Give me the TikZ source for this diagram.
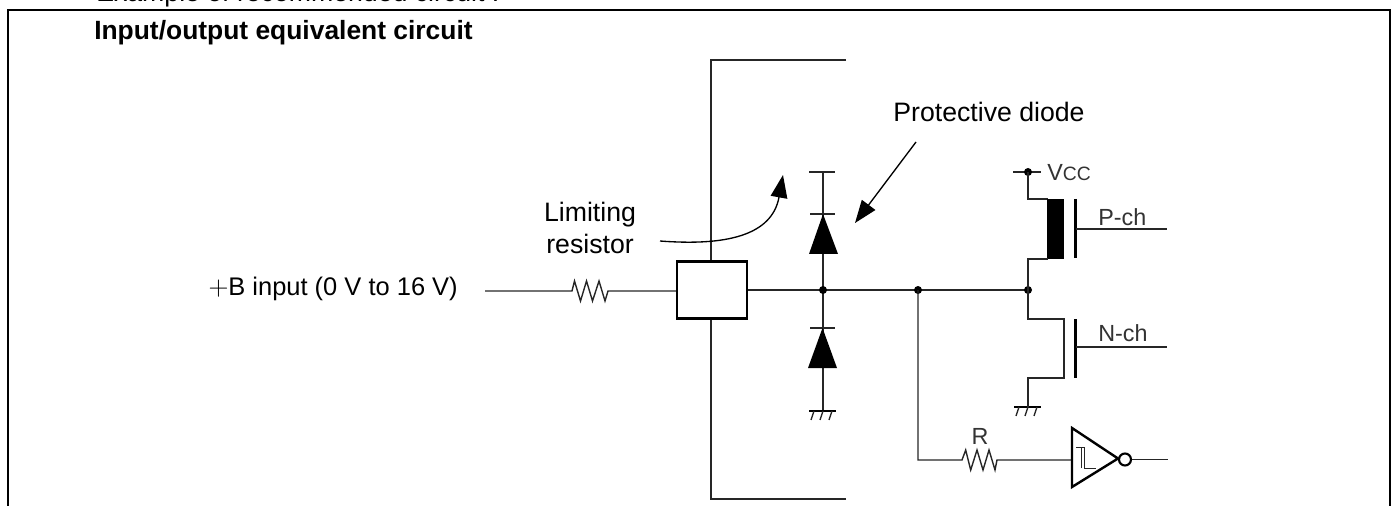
\documentclass[tikz,border=0pt]{standalone}
\usepackage{fontspec}
\setmainfont{Liberation Sans}
\usetikzlibrary{arrows.meta}
\begin{document}
\begin{tikzpicture}[x=0.75pt,y=-0.75pt,line join=miter,
  wire/.style={draw=black!85,line width=1.05pt},
  thick bar/.style={draw=black,line width=1.8pt},
  lbl/.style={inner sep=0pt,font=\fontsize{20}{24}\selectfont},
  small lbl/.style={inner sep=0pt,text=black!80,font=\fontsize{17.5}{20}\selectfont},
  dot/.style={circle,fill=black,inner sep=0pt,minimum size=8pt*0.75},
  fat/.style={-{Triangle[length=17pt,width=12.5pt]}}]
\useasboundingbox (0,0) rectangle (1400,506);
\begin{scope}
\clip (0,0) rectangle (1400,506);
\node[lbl,anchor=base west] (cap) at (96,1.5) {Example of recommended circuit :};
\draw[line width=1.6pt] (8,506) -- (8,10) -- (1390,10) -- (1390,506);
\end{scope}
\node[lbl,anchor=base west,font=\fontsize{19.8}{24}\selectfont\bfseries] (title) at (94,40) {Input/output equivalent circuit};
% coordinates
\coordinate (in) at (485,291);
\coordinate (r1a) at (572,291);
\coordinate (r1b) at (608,291);
\node[draw=black,line width=1.6pt,minimum width=70pt*0.75,minimum height=57pt*0.75,inner sep=0pt,anchor=center] (box) at (712,290) {};
\coordinate (jd) at (823,290);
\coordinate (jm) at (918,290);
\coordinate (jt) at (1028,290);
% package outline
\draw[wire] (846,60) -- (711,60) -- (box.north -| 711,0);
\draw[wire] (846,499) -- (711,499) -- (box.south -| 711,0);
% input
\draw[wire] (in) -- (r1a) -- (574.5,281) -- (580.5,301) -- (586.5,281) -- (592.5,301) -- (599,281) -- (605,301) -- (r1b) -- (box.west |- r1b);
% main wire
\draw[wire] (box.east |- jd) -- (jd) -- (jm) -- (jt);
% diodes
\draw[wire] (809,172) -- (835,172);
\draw[wire] (823,172) -- (jd) -- (823,411);
\draw[wire] (810,214) -- (835,214);
\draw[wire] (810,328) -- (835,328);
\fill (823,214) -- (838,254) -- (809,254) -- cycle;
\fill (822.5,328) -- (837,368) -- (808,368) -- cycle;
\node[dot] at (jd) {};
\node[dot] at (jm) {};
\node[dot] at (jt) {};
% grounds
\draw[thick bar,line width=1.5pt] (809,411) -- (836,411);
\draw[wire] (814,411) -- (811,420) (823,411) -- (820,420) (832,411) -- (829,420);
\draw[thick bar,line width=1.5pt] (1014,407) -- (1041,407);
\draw[wire] (1019,407) -- (1016,416) (1028,407) -- (1025,416) (1037,407) -- (1034,416);
% Vcc and transistors
\coordinate (vcc) at (1028,172);
\draw[wire] (1013,172) -- (1041,172);
\node[dot] at (vcc) {};
\draw[wire] (vcc) -- (1028,199) -- (1048,199);
\fill (1047,199) rectangle (1064,259);
\draw[wire] (1048,259) -- (1028,259) -- (jt) -- (1028,319) -- (1064,319) -- (1064,378) -- (1028,378) -- (1028,407);
\draw[thick bar] (1075.5,199) -- (1075.5,258);
\draw[thick bar] (1075.5,319) -- (1075.5,378);
\draw[wire] (1076,229) -- (1167,229);
\draw[wire] (1076,347) -- (1167,347);
% R and inverter
\coordinate (r2a) at (962,460);
\coordinate (r2b) at (997,460);
\draw[wire] (jm) -- (918,460) -- (r2a) -- (965.7,450) -- (970.7,470) -- (977,450) -- (983,470) -- (989,450) -- (995,470) -- (r2b) -- (1072,460);
\draw[thick bar] (1072,428) -- (1118,458.5) -- (1072,487) -- cycle;
\draw[wire,line width=0.7pt] (1076,447) -- (1084,447) -- (1084,468) -- (1096,468) (1081,468) -- (1081,447) ;
\node[circle,draw=black,line width=1.6pt,inner sep=0pt,minimum size=12pt*0.75] (bub) at (1125,459.5) {};
\draw[wire] (bub) -- (1168,459.5);
% labels
\node[lbl,anchor=base east,font=\fontsize{19.1}{24}\selectfont] (bi) at (458,296) {$+$B input (0 V to 16 V)};
\node[lbl,anchor=base] (lim1) at (590,222) {Limiting};
\node[lbl,anchor=base] (lim2) at (590,253) {resistor};
\node[lbl,anchor=base] (pd) at (989,122) {Protective diode};
\node[small lbl,anchor=base west] (v) at (1047,181) {V\fontsize{14.5}{18}\selectfont CC};
\node[small lbl,anchor=base west] (p) at (1098,225) {P-ch};
\node[small lbl,anchor=base west] (n) at (1098,341) {N-ch};
\node[small lbl,anchor=base] (rr) at (980,444) {R};
% callouts
\coordinate (c1) at (660,241);
\coordinate (c1e) at (783,175);
\draw[line width=1pt,fat] (c1) .. controls (725,246) and (772,236) .. (c1e);
\coordinate (c2) at (916,142);
\coordinate (c2e) at (855,223);
\draw[line width=1pt,fat] (c2) -- (c2e);
\end{tikzpicture}
\end{document}
